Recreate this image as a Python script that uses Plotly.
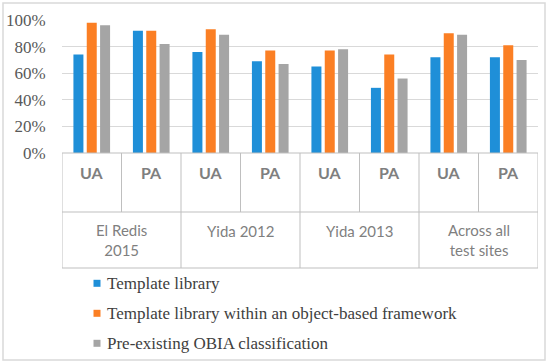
import plotly.graph_objects as go

# ---- data ----
measures = ["UA", "PA", "UA", "PA", "UA", "PA", "UA", "PA"]
sites = ["El Redis<br>2015", "Yida 2012", "Yida 2013", "Across all<br>test sites"]
series_names = [
    "Template library",
    "Template library within an object-based framework",
    "Pre-existing OBIA classification",
]
template_library = [0.74, 0.92, 0.76, 0.69, 0.65, 0.49, 0.72, 0.72]
template_obj = [0.98, 0.92, 0.93, 0.77, 0.77, 0.74, 0.90, 0.81]
obia = [0.96, 0.82, 0.89, 0.67, 0.78, 0.56, 0.89, 0.70]
y_ticks = [0, 0.2, 0.4, 0.6, 0.8, 1.0]
y_tick_labels = ["0%", "20%", "40%", "60%", "80%", "100%"]

colors = ["#1f8fd8", "#fb7f24", "#a5a5a5"]
values = [template_library, template_obj, obia]

W, H = 550, 364
L, R, T, B = 62, 12, 20, 211
PW, PH = W - L - R, H - T - B


def px(x):
    return (x - L) / PW


def py(y):
    return (H - B - y) / PH


xs = list(range(len(measures)))
fig = go.Figure()
for name, vals, c in zip(series_names, values, colors):
    fig.add_trace(go.Bar(x=xs, y=vals, name=name, marker_color=c,
                         marker_line_width=0, showlegend=False))

line_c = "#bfbfbf"
shapes = []
# table lines
n = len(measures)
for i in range(n + 1):
    xb = i - 0.5
    full = (i % 2 == 0)
    shapes.append(dict(type="line", xref="x", yref="paper", x0=xb, x1=xb,
                       y0=py(153), y1=py(268 if full else 212),
                       line=dict(color=line_c, width=1)))
for yy in (153, 212, 268):
    shapes.append(dict(type="line", xref="x", yref="paper", x0=-0.5, x1=n - 0.5,
                       y0=py(yy), y1=py(yy), line=dict(color=line_c, width=1)))
# outer frame
shapes.append(dict(type="rect", xref="paper", yref="paper",
                   x0=px(3), x1=px(545), y0=py(3), y1=py(360),
                   line=dict(color="#d9d9d9", width=1.5)))

annotations = []
for i, m in enumerate(measures):
    annotations.append(dict(x=i, y=py(172), xref="x", yref="paper", text="<b>%s</b>" % m,
                            showarrow=False, xanchor="center", yanchor="middle",
                            font=dict(family="Lato", size=16, color="#7f7f7f")))
for j, s in enumerate(sites):
    two = "<br>" in s
    annotations.append(dict(x=2 * j + 0.5, y=py(240.4 if two else 230.7), xref="x", yref="paper",
                            text=s, showarrow=False, xanchor="center", yanchor="middle",
                            font=dict(family="Lato", size=15, color="#7f7f7f")))
# legend
for k, (name, c) in enumerate(zip(series_names, colors)):
    cy = 283.3 + 30 * k
    shapes.append(dict(type="rect", xref="paper", yref="paper",
                       x0=px(93.5), x1=px(100.5), y0=py(cy - 3.5), y1=py(cy + 3.5),
                       line=dict(width=0), fillcolor=c))
    annotations.append(dict(x=px(105), y=py(cy), xref="paper", yref="paper", text=name,
                            showarrow=False, xanchor="left", yanchor="middle",
                            font=dict(family="Liberation Serif", size=17, color="#404040")))

fig.update_layout(
    width=W, height=H,
    font=dict(family="Liberation Serif", size=17, color="#595959"),
    margin=dict(l=L, r=R, t=T, b=B, pad=0, autoexpand=False),
    paper_bgcolor="white", plot_bgcolor="white",
    barmode="group", bargap=0.328, bargroupgap=0.25,
    showlegend=False,
    xaxis=dict(range=[-0.5, n - 0.5], showticklabels=False, showgrid=False,
               zeroline=False, showline=False, ticks="", automargin=False),
    yaxis=dict(range=[0, 1], tickvals=y_ticks, ticktext=y_tick_labels, automargin=False,
               showgrid=True, gridcolor="#d9d9d9", gridwidth=1, zeroline=False,
               showline=False, ticks="outside", ticklen=12, tickcolor="rgba(0,0,0,0)",
               tickfont=dict(family="Liberation Serif", size=17, color="#595959")),
    shapes=shapes, annotations=annotations,
)

fig.write_html("out.html", config={"displayModeBar": False},
               post_script="document.body.style.margin='0';")
